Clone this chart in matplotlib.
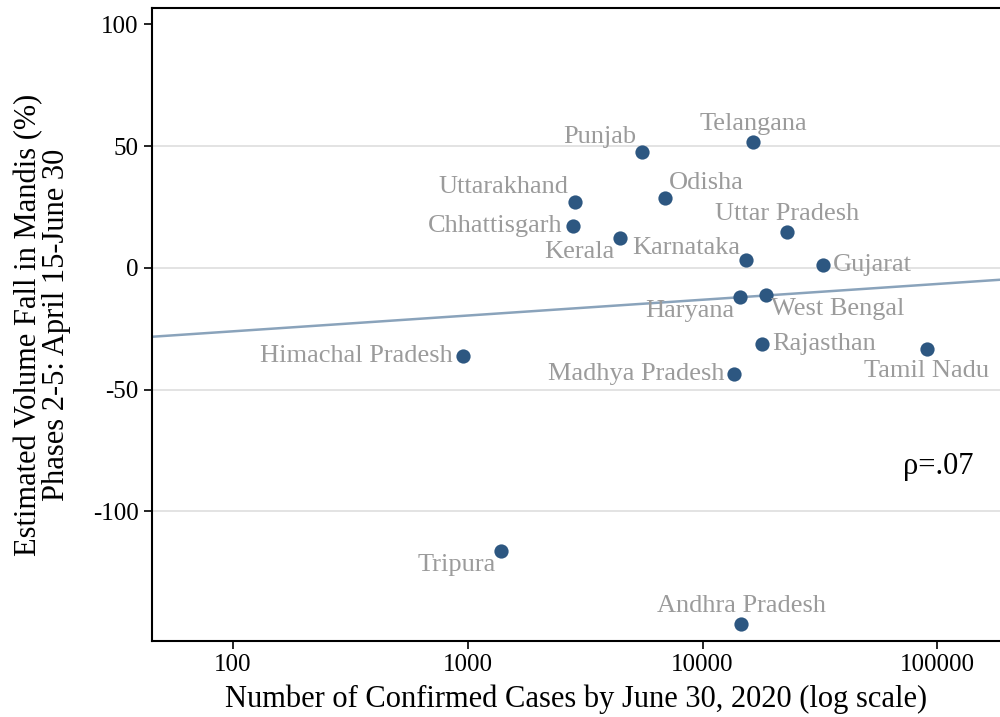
import numpy as np
import matplotlib
matplotlib.use('Agg')
import matplotlib.pyplot as plt

plt.rcParams["font.family"] = ["Liberation Serif", "DejaVu Serif"]
plt.rcParams["axes.unicode_minus"] = False

# Data
states = ['Punjab', 'Telangana', 'Uttarakhand', 'Odisha', 'Chhattisgarh', 'Kerala',
          'Uttar Pradesh', 'Karnataka', 'Gujarat', 'Haryana', 'West Bengal',
          'Himachal Pradesh', 'Rajasthan', 'Tamil Nadu', 'Madhya Pradesh',
          'Tripura', 'Andhra Pradesh']
cases = [5500, 16400, 2850, 6900, 2800, 4450, 23000, 15300, 32600, 14500, 18600,
         950, 18000, 90000, 13600, 1390, 14600]
volume_fall = [47.7, 51.8, 27.1, 28.8, 17.3, 12.3, 14.8, 3.3, 1.2, -11.9, -11.1,
               -36.2, -31.2, -33.3, -43.5, -116.3, -146.3]
# label position: (dx, dy in points, ha, va)
label_pos = {
    'Punjab': (-4, 3, 'right', 'bottom'),
    'Telangana': (0, 5, 'center', 'bottom'),
    'Uttarakhand': (-4, 3, 'right', 'bottom'),
    'Odisha': (3, 3, 'left', 'bottom'),
    'Chhattisgarh': (-7, 0, 'right', 'center'),
    'Kerala': (-4, -2, 'right', 'top'),
    'Uttar Pradesh': (0, 5, 'center', 'bottom'),
    'Karnataka': (-4, 1, 'right', 'bottom'),
    'Gujarat': (7, 0, 'left', 'center'),
    'Haryana': (-4, -2, 'right', 'top'),
    'West Bengal': (4, -2, 'left', 'top'),
    'Himachal Pradesh': (-7, 0, 'right', 'center'),
    'Rajasthan': (7, 0, 'left', 'center'),
    'Tamil Nadu': (0, -8, 'center', 'top'),
    'Madhya Pradesh': (-7, 0, 'right', 'center'),
    'Tripura': (-4, -2, 'right', 'top'),
    'Andhra Pradesh': (0, 5, 'center', 'bottom'),
}
rho_text = 'ρ=.07'

fig = plt.figure(figsize=(10, 7.17), dpi=100)
ax = fig.add_axes([0.152, 0.106, 0.848, 0.883])

ax.set_xscale('log')
ax.set_xlim(45.2, 185000)
ax.set_ylim(-153.2, 106.8)

for y in [50, 0, -50, -100]:
    ax.axhline(y, color='#e1e1e1', lw=1.3, zorder=0)

# linear fit on log scale
lx = np.log10(cases)
b, a = np.polyfit(lx, volume_fall, 1)
xs = np.array(ax.get_xlim())
ax.plot(xs, a + b * np.log10(xs), color='#8aa3bb', lw=1.8, zorder=1)

ax.scatter(cases, volume_fall, s=105, color='#2d5781', zorder=3, linewidths=0)

for s, x, y in zip(states, cases, volume_fall):
    dx, dy, ha, va = label_pos[s]
    ax.annotate(s, (x, y), xytext=(dx, dy), textcoords='offset points',
                ha=ha, va=va, fontsize=19, color='#9b9b9b')

ax.text(0.927, 0.275, rho_text, transform=ax.transAxes, ha='center', va='center',
        fontsize=22)

ax.spines['right'].set_visible(False)
for sp in ['left', 'bottom', 'top']:
    ax.spines[sp].set_linewidth(1.5)

ax.set_xticks([100, 1000, 10000, 100000])
ax.set_xticklabels(['100', '1000', '10000', '100000'])
ax.xaxis.set_minor_locator(matplotlib.ticker.NullLocator())
ax.set_yticks([100, 50, 0, -50, -100])
ax.tick_params(axis='both', labelsize=18, length=6, width=1.2)

ax.set_xlabel('Number of Confirmed Cases by June 30, 2020 (log scale)', fontsize=22, labelpad=6)
ax.set_ylabel('Estimated Volume Fall in Mandis (%)\nPhases 2-5: April 15-June 30', fontsize=22,
              linespacing=0.95, labelpad=16)

fig.savefig('out.png', dpi=100)
